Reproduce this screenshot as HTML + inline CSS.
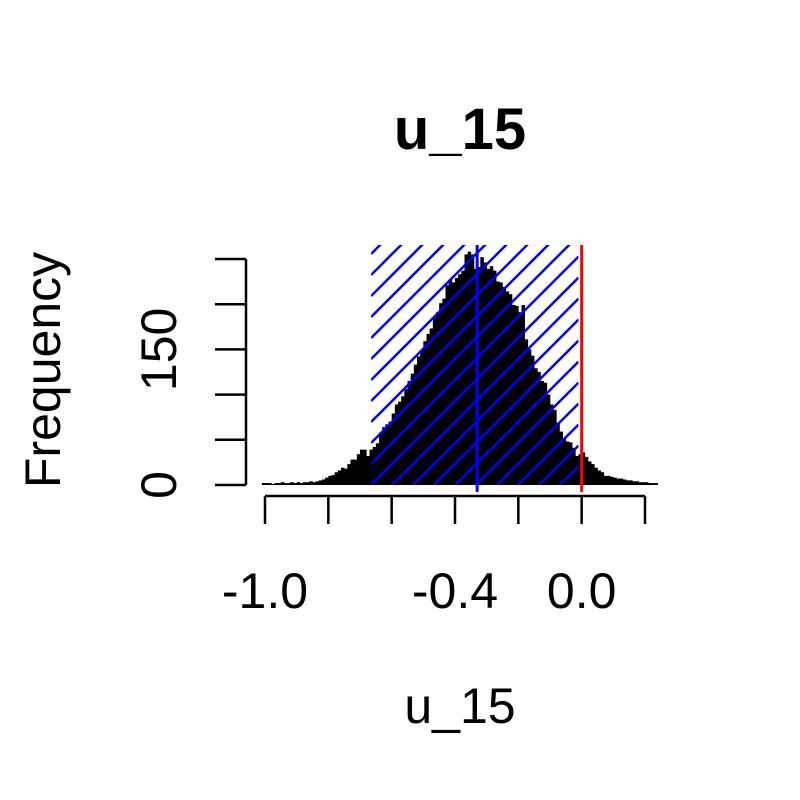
<!DOCTYPE html>
<html><head><meta charset="utf-8"><style>body{margin:0;background:#fff}svg{display:block}text{font-family:"Liberation Sans",sans-serif}</style></head>
<body>
<svg id="chart" width="800" height="800">
<text x="460" y="149" font-size="58" font-weight="bold" text-anchor="middle">u_15</text>
<text x="460" y="723" font-size="50" text-anchor="middle">u_15</text>
<text transform="translate(60,370) rotate(-90)" font-size="50" text-anchor="middle">Frequency</text>
<g id="bars"></g>
<defs><clipPath id="hc"><rect id="hcr"/></clipPath></defs>
<g id="hatch" clip-path="url(#hc)"></g>
<g id="axes"></g>
</svg>
<script>
const binStart = -1.01, binWidth = 0.01;
const counts = [1,1,1,0,1,1,2,1,1,2,1,2,1,2,2,3,2,3,4,5,7,9,10,13,15,18,17,22,27,27,33,38,38,31,38,41,45,57,63,66,69,78,88,91,97,105,114,122,132,141,148,158,166,172,184,190,200,205,220,226,223,228,232,236,254,257,254,238,240,251,245,238,241,236,224,223,218,213,210,198,197,190,198,160,149,142,128,124,114,112,99,88,82,68,58,50,47,46,40,31,33,35,30,25,22,18,15,13,9,9,8,7,6,6,5,4,4,3,3,2,2,2,1,1,1];
const xTicks = [-1.0,-0.8,-0.6,-0.4,-0.2,0.0,0.2];
const xTickLabels = ["-1.0","","","-0.4","","0.0",""];
const yTicks = [0,50,100,150,200,250];
const yTickLabels = ["0","","","150","",""];
const intervalLow = -0.665, intervalHigh = -0.01, meanVal = -0.33, refVal = 0.0;
const sx = v => 265 + (v + 1) * 380 / 1.2;
const sy = c => 485 - c * 0.904;
const NS = "http://www.w3.org/2000/svg";
function mk(parent, tag, attrs){const e=document.createElementNS(NS,tag);for(const k in attrs)e.setAttribute(k,attrs[k]);parent.appendChild(e);return e;}
const bars = document.getElementById('bars');
counts.forEach((c,i)=>{
  const x0 = sx(binStart + i*binWidth), x1 = sx(binStart + (i+1)*binWidth);
  const r = mk(bars,'rect',{x:x0,y:sy(c)-1,width:x1-x0+0.3,height:485-sy(c)+1,fill:'#000'});
  
  
});
const xl = sx(intervalLow), xh = sx(intervalHigh), topY = 245;
const cr = document.getElementById('hcr');
cr.setAttribute('x', xl); cr.setAttribute('y', topY); cr.setAttribute('width', xh-xl); cr.setAttribute('height', 485-topY);
const hatch = document.getElementById('hatch');
const w = xh - xl;
for (let b = 485 + 21*Math.ceil(w/21); b > topY - 5; b -= 21) {
  mk(hatch,'line',{x1:xl,y1:b,x2:xh,y2:b-w,stroke:'#0000ff','stroke-width':2.5});
}
const axes = document.getElementById('axes');
const mv = mk(axes,'line',{x1:sx(meanVal),y1:topY,x2:sx(meanVal),y2:492,stroke:'#0000ff','stroke-width':3});


const rv = mk(axes,'line',{x1:sx(refVal),y1:topY,x2:sx(refVal),y2:492,stroke:'#ff0000','stroke-width':3});


mk(axes,'line',{x1:sx(xTicks[0]),y1:496,x2:sx(xTicks[xTicks.length-1]),y2:496,stroke:'#000','stroke-width':2.5});
xTicks.forEach((t,i)=>{
  mk(axes,'line',{x1:sx(t),y1:496,x2:sx(t),y2:524,stroke:'#000','stroke-width':2.5});
  if (xTickLabels[i]) {
    const tx = mk(axes,'text',{x:sx(t),y:608,'font-size':50,'text-anchor':'middle'});
    tx.textContent = xTickLabels[i];
    
    
  }
});
mk(axes,'line',{x1:246,y1:sy(yTicks[0]),x2:246,y2:sy(yTicks[yTicks.length-1]),stroke:'#000','stroke-width':2.5});
yTicks.forEach((t,i)=>{
  mk(axes,'line',{x1:215,y1:sy(t),x2:246,y2:sy(t),stroke:'#000','stroke-width':2.5});
  if (yTickLabels[i]) {
    const ty = mk(axes,'text',{transform:`translate(176,${sy(t)}) rotate(-90)`,'font-size':50,'text-anchor':'middle'});
    ty.textContent = yTickLabels[i];
    
    
  }
});
</script>
</body></html>
